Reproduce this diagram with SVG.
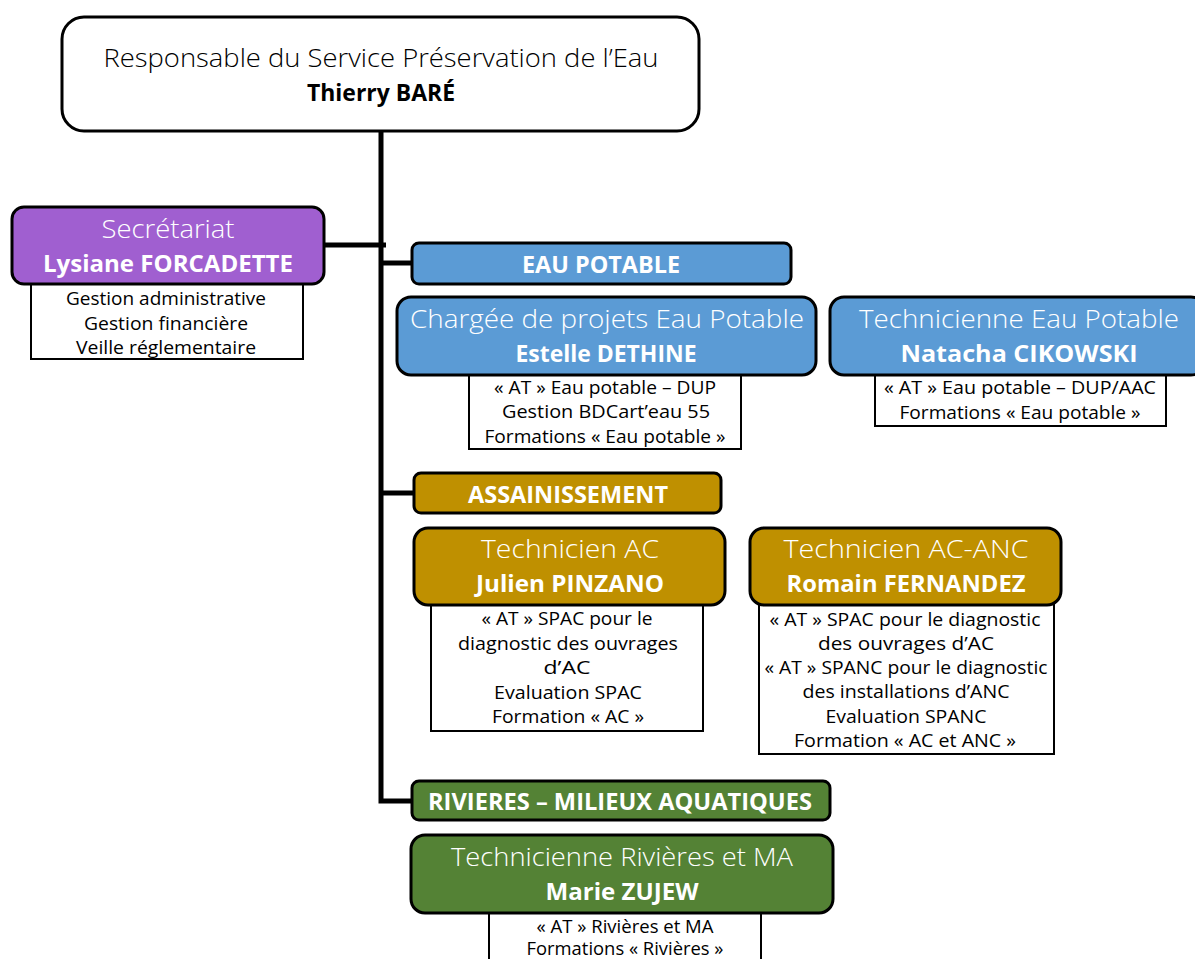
<svg xmlns="http://www.w3.org/2000/svg" width="1195" height="959" viewBox="0 0 1195 959">
<style>
text{font-family:"Open Sans","DejaVu Sans",sans-serif;text-anchor:middle}
.t{font-size:25px;font-weight:300}
.tw{font-size:25px;font-weight:300;fill:#fff}
.nw{font-size:24px;font-weight:700;fill:#fff}
.nb{font-size:24px;font-weight:700;fill:#000}
.h{font-size:23.5px;font-weight:700;fill:#fff}
.d{font-size:17.5px;fill:#000}
.box{stroke:#000;stroke-width:3}
.det{fill:#fff;stroke:#000;stroke-width:2}
.blue{fill:#5B9BD5}
.gold{fill:#BF9000}
.green{fill:#548235}
.purple{fill:#A05FD0}
.ln{stroke:#000;stroke-width:5;fill:none}
</style>
<g id="connectors">
<path class="ln" d="M381 131 V801 H412"/>
<path class="ln" d="M381 263 H412"/>
<path class="ln" d="M381 493 H414"/>
<path class="ln" d="M325 245 H386"/>
</g>
<g id="responsable">
<rect class="box" x="62" y="17" width="637" height="114" rx="22" fill="#fff"/>
<text class="t" x="381" y="67" textLength="555" lengthAdjust="spacingAndGlyphs">Responsable du Service Préservation de l’Eau</text>
<text class="nb" x="381" y="101" textLength="148" lengthAdjust="spacingAndGlyphs">Thierry BARÉ</text>
</g>
<g id="secretariat">
<rect class="det" x="31" y="280" width="272" height="79"/>
<rect class="box purple" x="12" y="207" width="312" height="77" rx="12"/>
<text class="tw" x="168" y="238" textLength="133" lengthAdjust="spacingAndGlyphs">Secrétariat</text>
<text class="nw" x="168" y="272" textLength="250" lengthAdjust="spacingAndGlyphs">Lysiane FORCADETTE</text>
<text class="d" x="166" y="305" textLength="200" lengthAdjust="spacingAndGlyphs">Gestion administrative</text>
<text class="d" x="166" y="330" textLength="164" lengthAdjust="spacingAndGlyphs">Gestion financière</text>
<text class="d" x="166" y="354" textLength="180" lengthAdjust="spacingAndGlyphs">Veille réglementaire</text>
</g>
<g id="eau-potable">
<rect class="box blue" x="412" y="243" width="379" height="41" rx="7"/>
<text class="h" x="601" y="273" textLength="158" lengthAdjust="spacingAndGlyphs">EAU POTABLE</text>
</g>
<g id="dethine">
<rect class="det" x="469" y="372" width="272" height="77"/>
<rect class="box blue" x="397" y="297" width="419" height="78" rx="14"/>
<text class="tw" x="607" y="328" textLength="394" lengthAdjust="spacingAndGlyphs">Chargée de projets Eau Potable</text>
<text class="nw" x="606" y="362" textLength="181" lengthAdjust="spacingAndGlyphs">Estelle DETHINE</text>
<text class="d" x="605" y="394" textLength="222" lengthAdjust="spacingAndGlyphs">« AT » Eau potable – DUP</text>
<text class="d" x="606" y="418" textLength="208" lengthAdjust="spacingAndGlyphs">Gestion BDCart’eau 55</text>
<text class="d" x="605" y="443" textLength="241" lengthAdjust="spacingAndGlyphs">Formations « Eau potable »</text>
</g>
<g id="cikowski">
<rect class="det" x="875" y="372" width="291" height="54"/>
<rect class="box blue" x="830" y="297" width="375" height="78" rx="14"/>
<text class="tw" x="1019" y="328" textLength="320" lengthAdjust="spacingAndGlyphs">Technicienne Eau Potable</text>
<text class="nw" x="1019" y="362" textLength="237" lengthAdjust="spacingAndGlyphs">Natacha CIKOWSKI</text>
<text class="d" x="1020" y="394" textLength="272" lengthAdjust="spacingAndGlyphs">« AT » Eau potable – DUP/AAC</text>
<text class="d" x="1020" y="419" textLength="241" lengthAdjust="spacingAndGlyphs">Formations « Eau potable »</text>
</g>
<g id="assainissement">
<rect class="box gold" x="414" y="473" width="307" height="40" rx="7"/>
<text class="h" x="568" y="503" textLength="200" lengthAdjust="spacingAndGlyphs">ASSAINISSEMENT</text>
</g>
<g id="pinzano">
<rect class="det" x="431" y="602" width="272" height="129"/>
<rect class="box gold" x="414" y="528" width="311" height="77" rx="14"/>
<text class="tw" x="570" y="558" textLength="178" lengthAdjust="spacingAndGlyphs">Technicien AC</text>
<text class="nw" x="570" y="592" textLength="188" lengthAdjust="spacingAndGlyphs">Julien PINZANO</text>
<text class="d" x="567" y="625" textLength="171" lengthAdjust="spacingAndGlyphs">« AT » SPAC pour le</text>
<text class="d" x="568" y="650" textLength="220" lengthAdjust="spacingAndGlyphs">diagnostic des ouvrages</text>
<text class="d" x="567" y="674" textLength="47" lengthAdjust="spacingAndGlyphs">d’AC</text>
<text class="d" x="568" y="699" textLength="148" lengthAdjust="spacingAndGlyphs">Evaluation SPAC</text>
<text class="d" x="568" y="723" textLength="152" lengthAdjust="spacingAndGlyphs">Formation « AC »</text>
</g>
<g id="fernandez">
<rect class="det" x="759" y="602" width="295" height="152"/>
<rect class="box gold" x="750" y="528" width="311" height="77" rx="14"/>
<text class="tw" x="906" y="558" textLength="245" lengthAdjust="spacingAndGlyphs">Technicien AC-ANC</text>
<text class="nw" x="906" y="592" textLength="239" lengthAdjust="spacingAndGlyphs">Romain FERNANDEZ</text>
<text class="d" x="905" y="626" textLength="271" lengthAdjust="spacingAndGlyphs">« AT » SPAC pour le diagnostic</text>
<text class="d" x="906" y="650" textLength="176" lengthAdjust="spacingAndGlyphs">des ouvrages d’AC</text>
<text class="d" x="906" y="674" textLength="283" lengthAdjust="spacingAndGlyphs">« AT » SPANC pour le diagnostic</text>
<text class="d" x="906" y="698" textLength="207" lengthAdjust="spacingAndGlyphs">des installations d’ANC</text>
<text class="d" x="906" y="723" textLength="161" lengthAdjust="spacingAndGlyphs">Evaluation SPANC</text>
<text class="d" x="905" y="747" textLength="222" lengthAdjust="spacingAndGlyphs">Formation « AC et ANC »</text>
</g>
<g id="rivieres">
<rect class="box green" x="412" y="781" width="418" height="39" rx="7"/>
<text class="h" x="620" y="810" textLength="384" lengthAdjust="spacingAndGlyphs">RIVIERES – MILIEUX AQUATIQUES</text>
</g>
<g id="zujew">
<rect class="det" x="489" y="910" width="272" height="60"/>
<rect class="box green" x="411" y="835" width="422" height="78" rx="14"/>
<text class="tw" x="622" y="866" textLength="342" lengthAdjust="spacingAndGlyphs">Technicienne Rivières et MA</text>
<text class="nw" x="622" y="900" textLength="153" lengthAdjust="spacingAndGlyphs">Marie ZUJEW</text>
<text class="d" x="625" y="933" textLength="177" lengthAdjust="spacingAndGlyphs">« AT » Rivières et MA</text>
<text class="d" x="625" y="955" textLength="197" lengthAdjust="spacingAndGlyphs">Formations « Rivières »</text>
</g>
</svg>
